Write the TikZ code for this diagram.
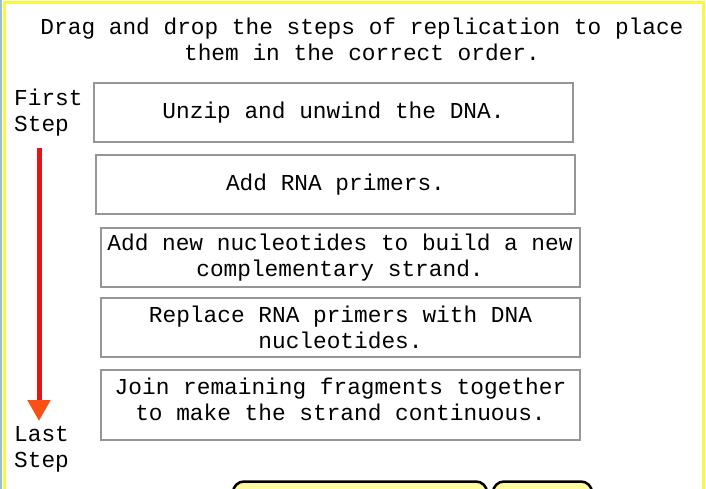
\documentclass[tikz,border=0pt]{standalone}
\usepackage{fontspec}
\setmainfont{Liberation Mono}
\usepackage{xcolor}
\usetikzlibrary{positioning, arrows.meta}

\definecolor{frameyellow}{RGB}{250,248,60}
\definecolor{frameblue}{RGB}{150,190,215}
\definecolor{boxgray}{RGB}{150,150,150}
\definecolor{shaftred}{RGB}{230,20,20}
\definecolor{tipred}{RGB}{250,80,20}
\definecolor{buttonyellow}{RGB}{255,250,160}

\begin{document}
\begin{tikzpicture}[
                x=1pt, y=-1pt,
                font=\fontsize{22.8}{26}\selectfont,
                step_box/.style={rectangle, draw=boxgray, line width=2pt, fill=white, align=center, minimum width=479pt, minimum height=59pt, inner sep=0pt},
                side_label/.style={anchor=west, align=left, inner sep=0pt},
                order_flow/.style={-{Triangle[length=21pt, width=22pt, color=tipred]}, line width=5pt, shaftred},
                button_box/.style={draw=black, line width=2.5pt, fill=buttonyellow, rounded corners=11pt}
            ]
                \useasboundingbox (0,0) rectangle (706,489);
                \clip (0,0) rectangle (706,489);

                % Outer frame
                \fill[white] (0,0) rectangle (706,489);
                \draw[frameblue, line width=2.5pt] (1,0) -- (1,489);
                \draw[frameyellow, line width=3pt] (4.5,520) -- (4.5,3) -- (703,3) -- (703,520);

                % Instructions
                \node[align=center] (title) at (362,39) {Drag and drop the steps of replication to place\\them in the correct order.};

                % Steps to order
                \node[step_box] (unzip) at (333.5,112.5) {Unzip and unwind the DNA.};
                \node[step_box] (primers) at (335.5,184.5) {Add RNA primers.};
                \node[step_box] (build) at (340,257.5) {Add new nucleotides to build a new\\complementary strand.};
                \node[step_box] (replace) at (340.5,327.5) {Replace RNA primers with DNA\\nucleotides.};
                \node[step_box, minimum height=70pt] (join) at (340.5,405) {Join remaining fragments together\\to make the strand continuous.\rule[-11pt]{0pt}{0pt}};

                % Order arrow
                \node[side_label] (first) at (14,113) {First\\Step};
                \node[side_label] (last) at (14,449) {Last\\Step};
                \coordinate (arrow_top) at (39,148);
                \coordinate (arrow_end) at (39,421);
                \draw[order_flow] (arrow_top) -- (arrow_end);

                % Buttons (cut off below)
                \draw[button_box] (233,481.5) rectangle (487,520);
                \draw[button_box] (493,481.5) rectangle (592,520);

            \end{tikzpicture}
\end{document}
